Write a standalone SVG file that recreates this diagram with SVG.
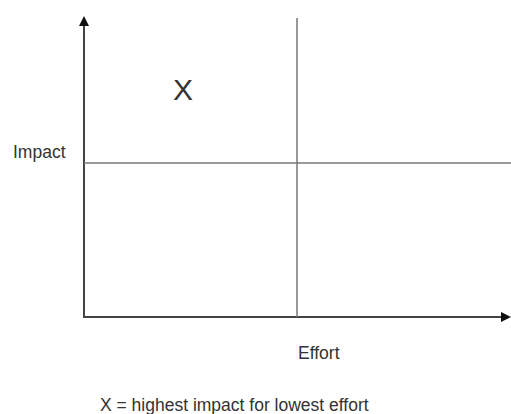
<svg xmlns="http://www.w3.org/2000/svg" width="511" height="414" viewBox="0 0 511 414">
<style>
text{font-family:"Liberation Sans",Arial,sans-serif;fill:#333}
.axis{stroke:#444;stroke-width:2;fill:none}
.div{stroke:#777;stroke-width:1.5;fill:none}
</style>
<defs>
<marker id="ah" markerWidth="5" markerHeight="5" refX="4" refY="2.5" orient="auto" markerUnits="strokeWidth">
<path d="M0,0 L5,2.5 L0,5 Z" fill="#111"/>
</marker>
</defs>
<rect width="511" height="414" fill="#fff"/>
<g id="connectors">
<line class="axis" x1="84" y1="318" x2="84" y2="18" marker-end="url(#ah)"/>
<line class="axis" x1="84" y1="317" x2="509" y2="317" marker-end="url(#ah)"/>
<line class="div" x1="297" y1="18" x2="297" y2="317"/>
<line class="div" x1="84" y1="163" x2="511" y2="163"/>
</g>
<g id="x-mark"><text x="173" y="100" font-size="30">X</text></g>
<g id="impact"><text x="13" y="158" font-size="17.5">Impact</text></g>
<g id="effort"><text x="298" y="359" font-size="17.5">Effort</text></g>
<g id="legend"><text x="100" y="411" font-size="17.5">X = highest impact for lowest effort</text></g>
</svg>
